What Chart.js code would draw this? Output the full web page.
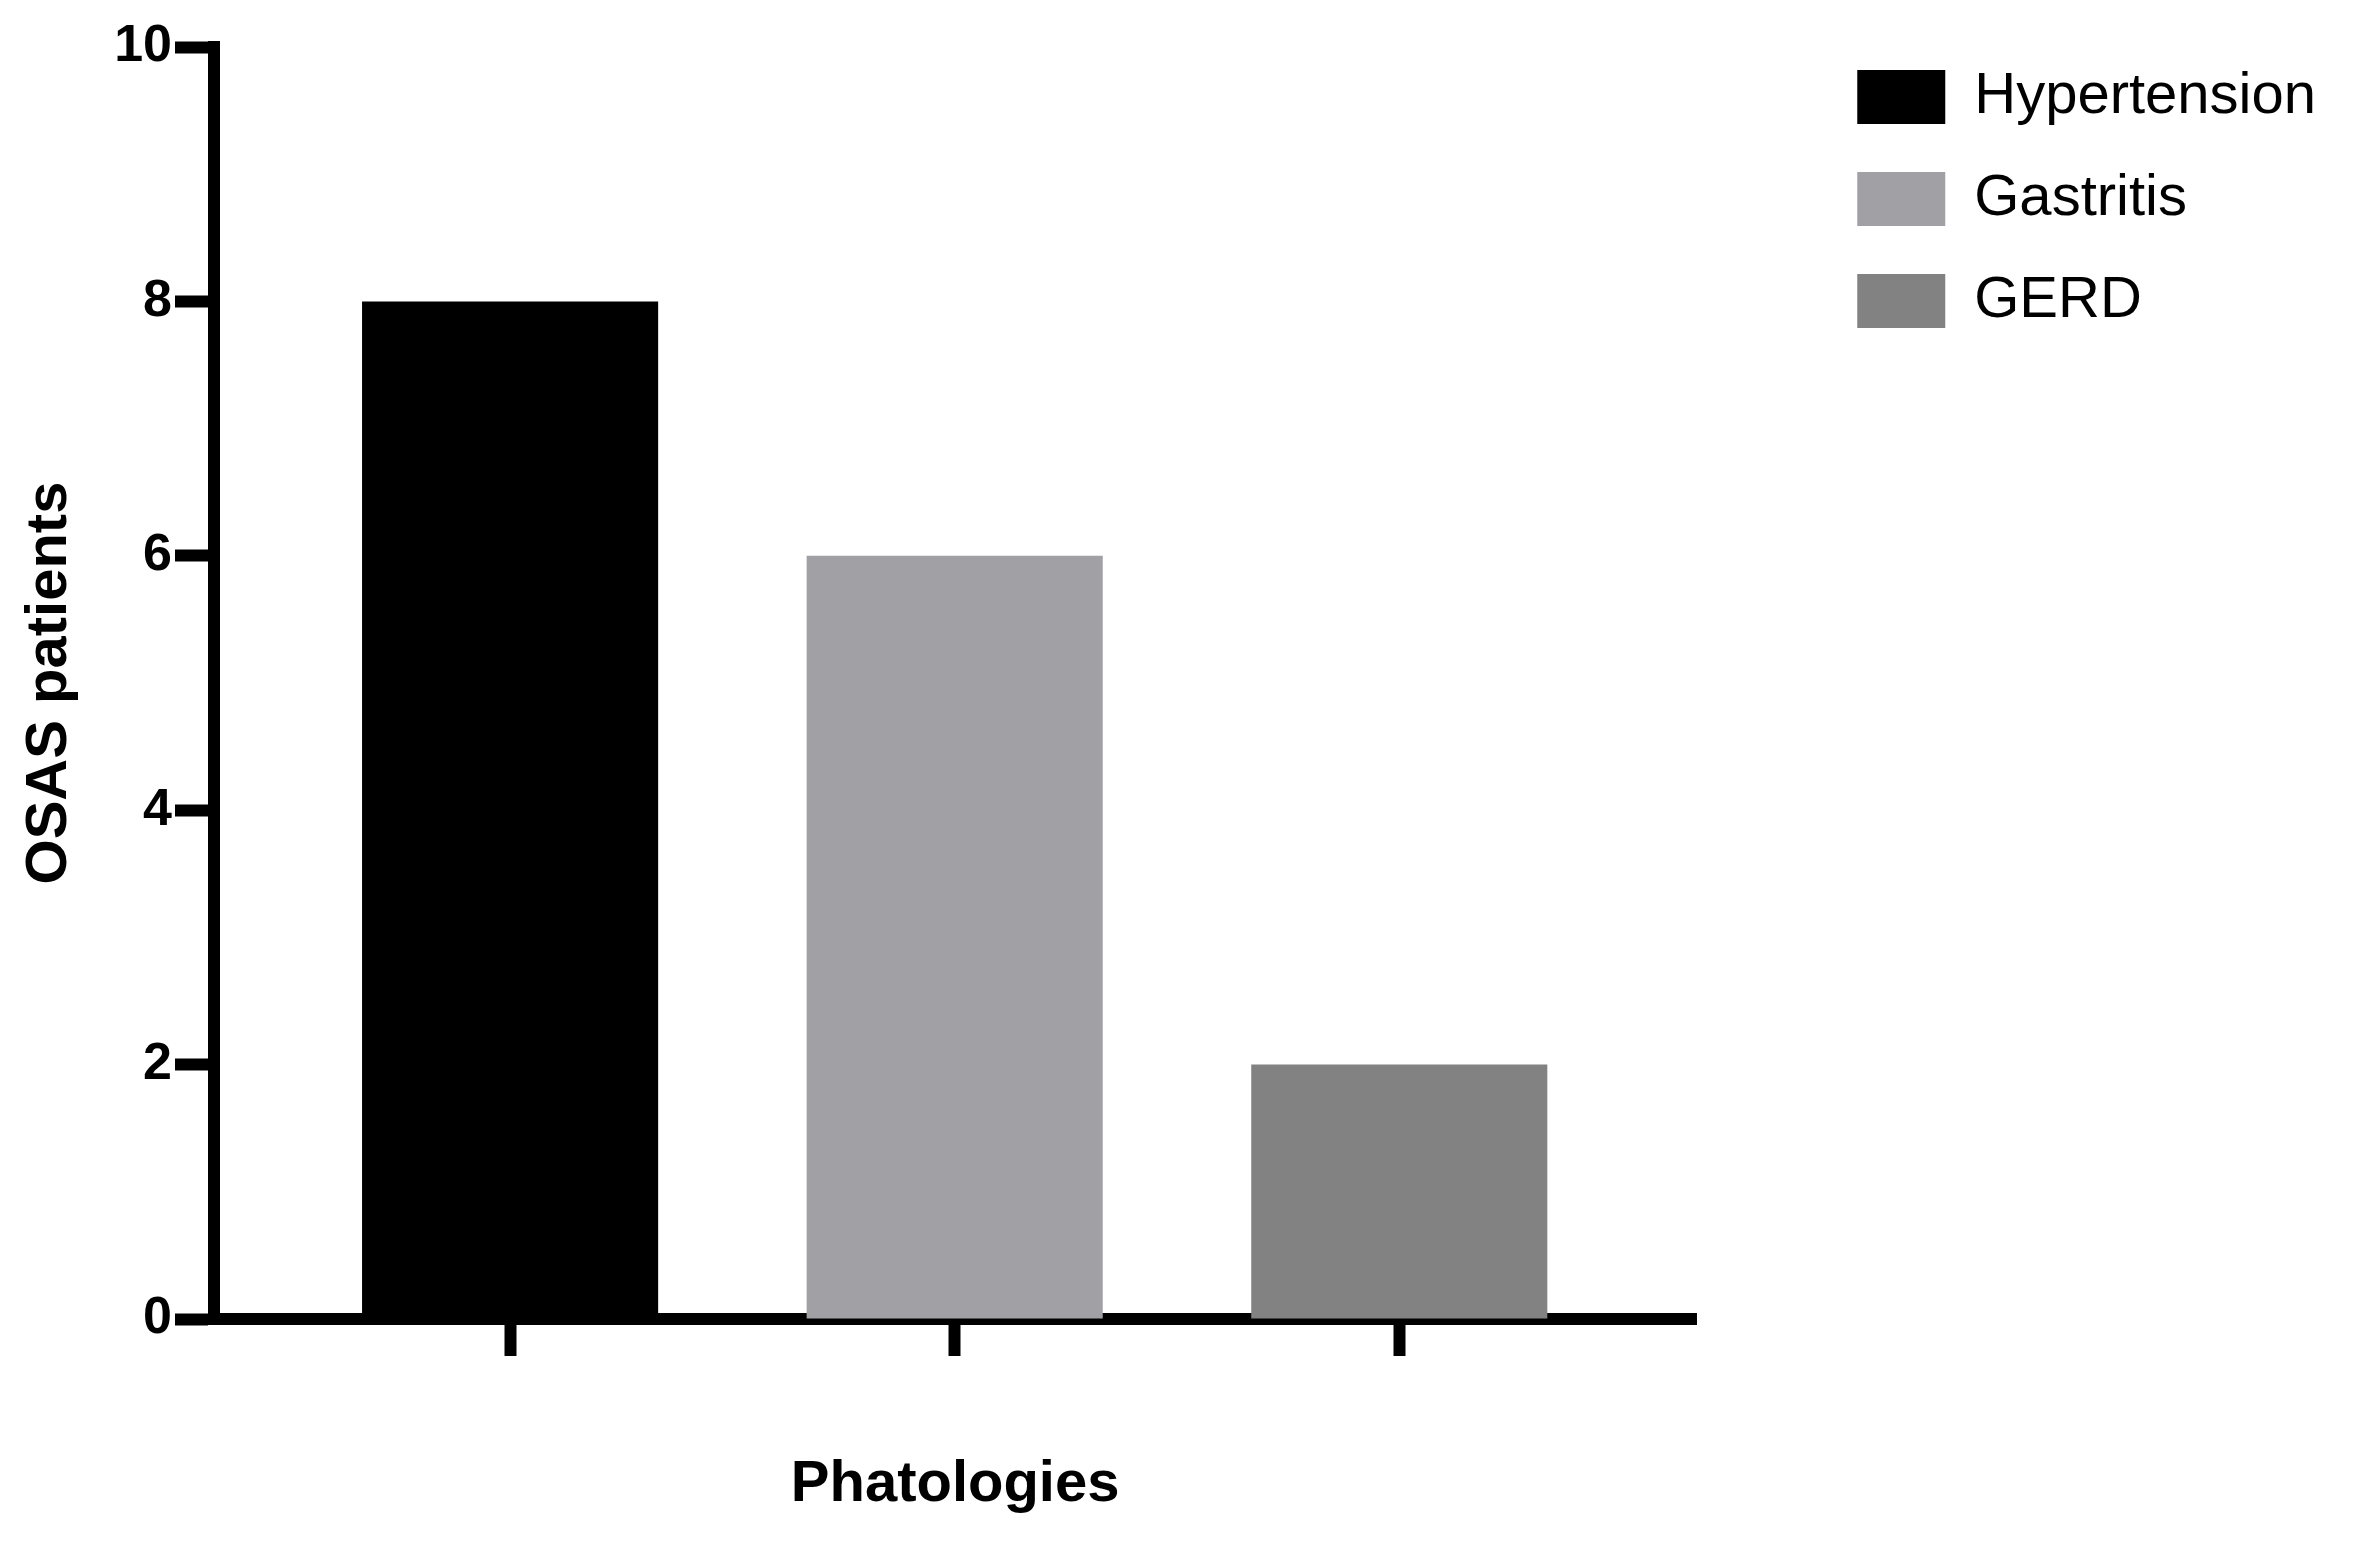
<!DOCTYPE html>
<html><head><meta charset="utf-8">
<script src="https://cdn.jsdelivr.net/npm/chart.js@4.4.1/dist/chart.umd.min.js"></script>
<style>html,body{margin:0;padding:0;background:#fff}#wrap{width:2359px;height:1553px}</style>
</head><body><div id="wrap"><canvas id="c" width="2359" height="1553"></canvas></div>
<script>
const categories = ['Hypertension', 'Gastritis', 'GERD'];
const values = [8, 6, 2];
const colors = ['#000000', '#a1a0a5', '#828282'];
const yTicks = [0, 2, 4, 6, 8, 10];
const yTitle = 'OSAS patients';
const xTitle = 'Phatologies';

const FONT = "'Liberation Sans', Arial, Helvetica, sans-serif";
const LEGEND_GAP = 117;
const datasets = categories.map((name, i) => ({
  label: name,
  data: [{x: i, y: values[i]}],
  backgroundColor: colors[i],
  borderWidth: 0,
  grouped: false,
  categoryPercentage: 1,
  barPercentage: 0.666
}));

const legendGap = {
  id: 'legendGap',
  afterLayout(chart) {
    const l = chart.legend;
    if (l) { l.left += LEGEND_GAP; l.right += LEGEND_GAP; }
  }
};

new Chart(document.getElementById('c'), {
  type: 'bar',
  data: {datasets},
  plugins: [legendGap],
  options: {
    responsive: false,
    animation: false,
    devicePixelRatio: 1,
    events: [],
    layout: {padding: {top: 24, left: 0, right: 150, bottom: 0}},
    plugins: {
      legend: {
        position: 'right', align: 'start',
        labels: {boxWidth: 88, boxHeight: 54, padding: 44, color: '#000',
                 font: {family: FONT, size: 58}}
      },
      tooltip: {enabled: false}
    },
    scales: {
      x: {
        type: 'linear', position: 'bottom', z: 1, offset: false,
        min: -0.666, max: categories.length - 1 + 0.668,
        afterBuildTicks: s => { s.ticks = categories.map((_, i) => ({value: i})); },
        afterFit: s => { s.height = 234; },
        grid: {offset: false, drawOnChartArea: false, drawTicks: true, tickLength: 37, tickWidth: 12, tickColor: '#000'},
        border: {display: true, width: 12, color: '#000'},
        ticks: {display: false},
        title: {display: true, text: xTitle, color: '#000',
                font: {family: FONT, size: 58, weight: 'bold'}, padding: {top: 0, bottom: 33}}
      },
      y: {
        type: 'linear', position: 'left', z: 1,
        min: yTicks[0], max: yTicks[yTicks.length - 1],
        afterBuildTicks: s => { s.ticks = yTicks.map(v => ({value: v})); },
        afterFit: s => { s.width = 214; s.paddingTop = 47; },
        grid: {drawOnChartArea: false, drawTicks: true, tickLength: 39, tickWidth: 12, tickColor: '#000'},
        border: {display: true, width: 12, color: '#000'},
        ticks: {color: '#000', padding: 3, font: {family: FONT, size: 52, weight: 'bold'}},
        title: {display: true, text: yTitle, color: '#000',
                font: {family: FONT, size: 58, weight: 'bold'}, padding: {top: 15, bottom: 0}}
      }
    }
  }
});
</script>
</body></html>
